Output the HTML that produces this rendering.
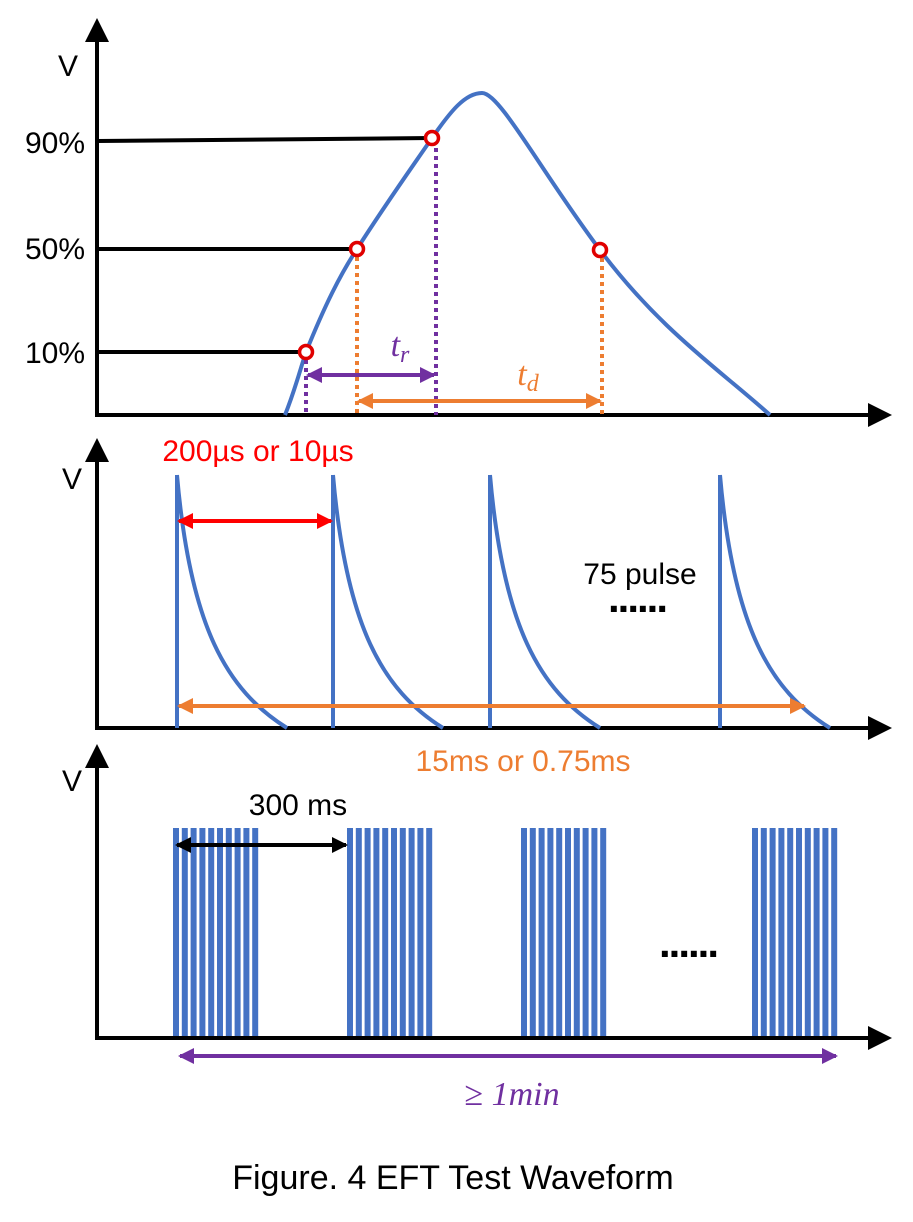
<!DOCTYPE html>
<html><head><meta charset="utf-8"><style>
html,body{margin:0;padding:0;background:#fff;}
svg{display:block;font-family:"Liberation Sans",sans-serif;}
</style></head><body>
<svg id="fig" width="913" height="1222" viewBox="0 0 913 1222">
<defs>
<marker id="ak" markerWidth="6" markerHeight="6" refX="5" refY="3" orient="auto-start-reverse" markerUnits="strokeWidth"><path d="M0,0 L6,3 L0,6 z" fill="#000"/></marker>
<marker id="ap" markerWidth="4" markerHeight="4" refX="3.5" refY="2" orient="auto-start-reverse" markerUnits="strokeWidth"><path d="M0,0 L4,2 L0,4 z" fill="#7030a0"/></marker>
<marker id="ao" markerWidth="4" markerHeight="4" refX="3.5" refY="2" orient="auto-start-reverse" markerUnits="strokeWidth"><path d="M0,0 L4,2 L0,4 z" fill="#ed7d31"/></marker>
<marker id="ar" markerWidth="4" markerHeight="4" refX="3.5" refY="2" orient="auto-start-reverse" markerUnits="strokeWidth"><path d="M0,0 L4,2 L0,4 z" fill="#ff0000"/></marker>
<marker id="ab" markerWidth="4" markerHeight="4" refX="3.5" refY="2" orient="auto-start-reverse" markerUnits="strokeWidth"><path d="M0,0 L4,2 L0,4 z" fill="#000"/></marker>
</defs>

<!-- Panel 1 axes -->
<line x1="97" y1="415" x2="97" y2="22" stroke="#000" stroke-width="4" marker-end="url(#ak)"/>
<line x1="95" y1="415" x2="888" y2="415" stroke="#000" stroke-width="4" marker-end="url(#ak)"/>
<text x="68" y="76" font-size="30" text-anchor="middle">V</text>
<text x="55" y="153" font-size="30" text-anchor="middle">90%</text>
<text x="55" y="259" font-size="30" text-anchor="middle">50%</text>
<text x="55" y="363" font-size="30" text-anchor="middle">10%</text>
<line x1="97" y1="141" x2="432" y2="138" stroke="#000" stroke-width="4"/>
<line x1="97" y1="249" x2="357" y2="249" stroke="#000" stroke-width="4"/>
<line x1="97" y1="352" x2="306" y2="352" stroke="#000" stroke-width="4"/>
<path d="M285,415 C295,390 300,370 306,352 C325,305 340,275 357,249 C385,205 410,170 432,138 C450,112 465,93 482,93 C500,93 540,170 600,250 C660,330 720,370 770,415" fill="none" stroke="#4472c4" stroke-width="4"/>
<line x1="306" y1="352" x2="306" y2="415" stroke="#7030a0" stroke-width="4" stroke-dasharray="4,4"/>
<line x1="436" y1="140" x2="436" y2="415" stroke="#7030a0" stroke-width="4" stroke-dasharray="4,4"/>
<line x1="357" y1="249" x2="357" y2="415" stroke="#ed7d31" stroke-width="4" stroke-dasharray="4,4"/>
<line x1="602" y1="250" x2="602" y2="415" stroke="#ed7d31" stroke-width="4" stroke-dasharray="4,4"/>
<circle cx="306" cy="352" r="6.5" fill="#fff" stroke="#e00000" stroke-width="3.5"/>
<circle cx="357" cy="249" r="6.5" fill="#fff" stroke="#e00000" stroke-width="3.5"/>
<circle cx="432" cy="138" r="6.5" fill="#fff" stroke="#e00000" stroke-width="3.5"/>
<circle cx="600" cy="250" r="6.5" fill="#fff" stroke="#e00000" stroke-width="3.5"/>
<line x1="308" y1="375" x2="434" y2="375" stroke="#7030a0" stroke-width="4" marker-start="url(#ap)" marker-end="url(#ap)"/>
<text x="400" y="356" font-size="34" font-style="italic" fill="#7030a0" text-anchor="middle" font-family="Liberation Serif,serif">t<tspan font-size="24" dy="6">r</tspan></text>
<line x1="359" y1="401" x2="600" y2="401" stroke="#ed7d31" stroke-width="4" marker-start="url(#ao)" marker-end="url(#ao)"/>
<text x="528" y="385" font-size="34" font-style="italic" fill="#ed7d31" text-anchor="middle" font-family="Liberation Serif,serif">t<tspan font-size="24" dy="6">d</tspan></text>

<!-- Panel 2 -->
<line x1="97" y1="728" x2="97" y2="442" stroke="#000" stroke-width="4" marker-end="url(#ak)"/>
<line x1="95" y1="728" x2="888" y2="728" stroke="#000" stroke-width="4" marker-end="url(#ak)"/>
<text x="72" y="489" font-size="30" text-anchor="middle">V</text>
<g id="pulses"></g>
<text x="258" y="461" font-size="30" fill="#ff0000" text-anchor="middle">200µs or 10µs</text>
<line x1="179" y1="521" x2="331" y2="521" stroke="#ff0000" stroke-width="4" marker-start="url(#ar)" marker-end="url(#ar)"/>
<text x="640" y="584" font-size="30" text-anchor="middle">75 pulse</text>
<text x="637" y="612" font-size="42" font-weight="bold" letter-spacing="-2" text-anchor="middle">......</text>
<line x1="179" y1="706" x2="804" y2="706" stroke="#ed7d31" stroke-width="4" marker-start="url(#ao)" marker-end="url(#ao)"/>
<text x="523" y="771" font-size="30" fill="#ed7d31" text-anchor="middle">15ms or 0.75ms</text>

<!-- Panel 3 -->
<line x1="97" y1="1038" x2="97" y2="748" stroke="#000" stroke-width="4" marker-end="url(#ak)"/>
<line x1="95" y1="1038" x2="888" y2="1038" stroke="#000" stroke-width="4" marker-end="url(#ak)"/>
<text x="72" y="791" font-size="30" text-anchor="middle">V</text>
<g id="bursts"></g>
<text x="298" y="815" font-size="30" text-anchor="middle">300 ms</text>
<line x1="177" y1="845" x2="346" y2="845" stroke="#000" stroke-width="4" marker-start="url(#ab)" marker-end="url(#ab)"/>
<text x="688" y="957" font-size="42" font-weight="bold" letter-spacing="-2" text-anchor="middle">......</text>
<line x1="180" y1="1056" x2="836" y2="1056" stroke="#7030a0" stroke-width="4" marker-start="url(#ap)" marker-end="url(#ap)"/>
<text x="512" y="1105" font-size="34" fill="#7030a0" text-anchor="middle" font-family="Liberation Serif,serif">≥ <tspan font-style="italic">1min</tspan></text>

<text x="453" y="1189" font-size="34" text-anchor="middle">Figure. 4 EFT Test Waveform</text>
</svg>
<script>
const pulseStarts = [177, 333, 490, 720];
const pulseTop = 475;
const pulseBase = 728;
const pulseDecayWidth = 110;
const burstStarts = [173, 347, 521, 752];
const barsPerBurst = 10;
const barPitch = 8.8;
const barWidth = 6;
const barTop = 828;
const barBase = 1036;
const NS = "http://www.w3.org/2000/svg";

const pg = document.getElementById('pulses');
pulseStarts.forEach((x, i) => {
  const v = document.createElementNS(NS, 'line');
  v.setAttribute('x1', x); v.setAttribute('x2', x);
  v.setAttribute('y1', pulseTop); v.setAttribute('y2', pulseBase);
  v.setAttribute('stroke', '#4472c4'); v.setAttribute('stroke-width', 4);
  
  
  pg.appendChild(v);
  const p = document.createElementNS(NS, 'path');
  const w = pulseDecayWidth, h = pulseBase - pulseTop;
  p.setAttribute('d', `M${x},${pulseTop} C${x + 0.12 * w},${pulseTop + 0.6 * h} ${x + 0.45 * w},${pulseTop + 0.85 * h} ${x + w},${pulseBase}`);
  p.setAttribute('fill', 'none'); p.setAttribute('stroke', '#4472c4'); p.setAttribute('stroke-width', 4);
  
  
  pg.appendChild(p);
});

const bg = document.getElementById('bursts');
burstStarts.forEach((x0, b) => {
  for (let k = 0; k < barsPerBurst; k++) {
    const r = document.createElementNS(NS, 'rect');
    r.setAttribute('x', x0 + k * barPitch); r.setAttribute('y', barTop);
    r.setAttribute('width', barWidth); r.setAttribute('height', barBase - barTop);
    r.setAttribute('fill', '#4472c4');
    
    
    bg.appendChild(r);
  }
});
</script>
</body></html>
